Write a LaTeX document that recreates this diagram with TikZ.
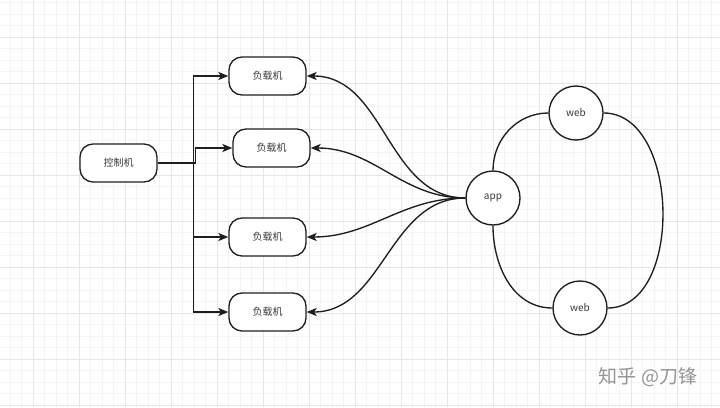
\documentclass[tikz,border=0pt]{standalone}
\usepackage{fontspec}
\newfontfamily\cjk{Noto Sans CJK SC}
\usetikzlibrary{arrows.meta}
\definecolor{minorgrid}{HTML}{F4F4F4}
\definecolor{majorgrid}{HTML}{E6E6E6}
\definecolor{ink}{HTML}{1E1E1E}
\definecolor{txt}{HTML}{3A3A3A}
\tikzset{
  box/.style={draw=ink, line width=1.35pt, rounded corners=13pt, minimum width=77pt, minimum height=38pt, inner sep=0pt, fill=white, font=\cjk\fontsize{10}{12}\selectfont, text=txt},
  ball/.style={draw=ink, line width=1.35pt, circle, minimum size=54pt, inner sep=0pt, fill=white, font=\cjk\fontsize{10}{12}\selectfont, text=txt},
  edge/.style={draw=ink, line width=1.35pt},
  arrowedge/.style={edge, -{Stealth[length=10pt,width=8pt,inset=2.5pt]}},
  watermark/.style={font=\cjk\fontsize{19}{22}\selectfont, text=black!42}
}
\begin{document}
\begin{tikzpicture}[x=1pt,y=-1pt]
\useasboundingbox (0,0) rectangle (720,407);
\fill[white] (0,0) rectangle (720,407);
% grid
\foreach \k in {0,...,63} \draw[minorgrid, line width=0.7pt] ({-1.5+11.5*\k},0) -- ({-1.5+11.5*\k},407);
\foreach \k in {0,...,36} \draw[minorgrid, line width=0.7pt] (0,{2.5+11.5*\k}) -- (720,{2.5+11.5*\k});
\foreach \k in {-1,...,15} \draw[majorgrid, line width=0.8pt] ({33+46*\k},0) -- ({33+46*\k},407);
\foreach \k in {0,...,8} \draw[majorgrid, line width=0.8pt] (0,{37+46*\k}) -- (720,{37+46*\k});
% nodes
\node[box] (ctrl) at (118.5,163) {控制机};
\node[box] (lb1) at (267.5,76) {负载机};
\node[box] (lb2) at (271.5,148) {负载机};
\node[box] (lb3) at (267.5,237) {负载机};
\node[box] (lb4) at (267.5,312) {负载机};
\node[ball] (app) at (493,198) {app};
\node[ball] (webt) at (576,113) {web};
\node[ball] (webb) at (580,308) {web};
% control edges
\draw[arrowedge] (ctrl.east) -- ++(36,0) |- (lb1.west);
\draw[arrowedge] (ctrl.east) -- ++(38,0) |- (lb2.west);
\draw[arrowedge] (ctrl.east) -- ++(36,0) |- (lb3.west);
\draw[arrowedge] (ctrl.east) -- ++(36,0) |- (lb4.west);
% app curves
\draw[arrowedge] (app.west) to[out=180,in=0] (lb1.east);
\draw[arrowedge] (app.west) to[out=180,in=0] (lb2.east);
\draw[arrowedge] (app.west) to[out=180,in=0] (lb3.east);
\draw[arrowedge] (app.west) to[out=180,in=0] (lb4.east);
% ring
\draw[edge] (app.north) to[out=90,in=180] (webt.west);
\draw[edge] (webt.east) to[out=0,in=0] (webb.east);
\draw[edge] (app.south) to[out=-90,in=180] (webb.west);
% watermark
\node[watermark] (wm) at (648,377) {知乎 @刀锋};
\end{tikzpicture}
\end{document}
